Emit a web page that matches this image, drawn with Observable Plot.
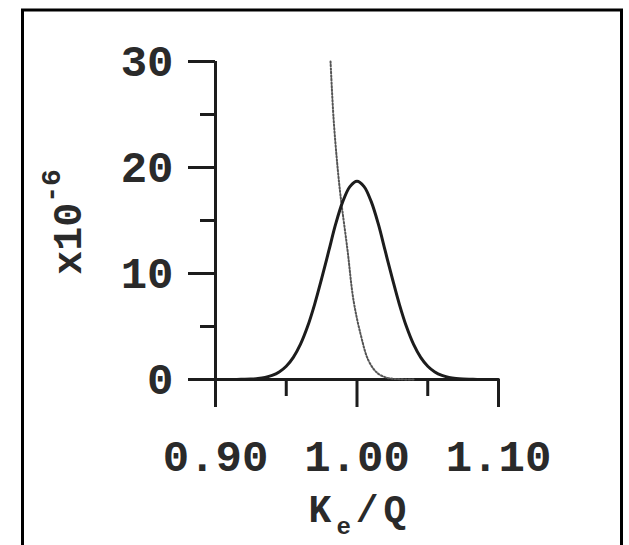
<!DOCTYPE html>
<html><head><meta charset="utf-8">
<script src="https://cdn.jsdelivr.net/npm/d3@7"></script>
<script src="https://cdn.jsdelivr.net/npm/@observablehq/plot@0.6"></script>
<style>body{margin:0;background:#fff}</style>
</head><body><div id="chart"></div>
<script>
// Solid curve (distribution)
const gaussX = [0.900,0.905,0.910,0.915,0.920,0.925,0.930,0.935,0.940,0.945,0.950,0.955,0.960,0.965,0.970,0.975,0.980,0.985,0.990,0.995,1.000,
                1.005,1.010,1.015,1.020,1.025,1.030,1.035,1.040,1.045,1.050,1.055,1.060,1.065,1.070,1.075,1.080,1.085,1.090,1.095,1.100];
const gaussY = [0.00,0.00,0.00,0.01,0.02,0.04,0.09,0.19,0.38,0.71,1.25,2.09,3.31,4.97,7.07,9.51,12.1,14.7,16.8,18.2,18.7,
                18.2,16.8,14.7,12.1,9.51,7.07,4.97,3.31,2.09,1.25,0.71,0.38,0.19,0.09,0.04,0.02,0.01,0.00,0.00,0.00];
// Dotted curve
const dotX = [0.9813,0.9834,0.9860,0.9883,0.9933,0.9975,1.0025,1.0081,1.0145,1.0216,1.0300,1.0400];
const dotY = [30.0,24.7,20.4,17.4,12.2,7.5,4.3,1.8,0.6,0.15,0.03,0.0];

const yTicks = [0,10,20,30];
const yMinor = [5,15,25];
const xTicks = [0.90,1.00,1.10];
const xMinor = [0.95,1.05];
const yLabelMain = "x10", yLabelSup = "-6";
const xLabelMain = "K", xLabelSub = "e", xLabelRest = "/Q";

const font = "'Liberation Mono', 'DejaVu Sans Mono', monospace";
const ink = "#1c1c1c";
const textInk = "#2a2a2a";
const gi = gaussX.map((_, i) => i);
const di = dotX.map((_, i) => i);

const plot = Plot.plot({
  width: 629, height: 545,
  marginLeft: 215, marginRight: 131, marginTop: 61, marginBottom: 166,
  x: {domain: [0.90, 1.10]},
  y: {domain: [0, 30]},
  style: {fontFamily: font, background: "white", overflow: "visible"},
  marks: [
    Plot.axisY(yTicks, {tickSize: 27, tickPadding: 15, fontSize: 44, fontWeight: "bold", strokeWidth: 3, stroke: ink, fill: textInk, label: null}),
    Plot.axisY(yMinor, {tickSize: 15, text: null, strokeWidth: 3, stroke: ink, label: null}),
    Plot.axisX(xTicks, {tickSize: 28, tickPadding: 32, tickFormat: d => d.toFixed(2), fontSize: 44, fontWeight: "bold", strokeWidth: 3, stroke: ink, fill: textInk, label: null}),
    Plot.axisX(xMinor, {tickSize: 17, text: null, strokeWidth: 3, stroke: ink, label: null}),
    Plot.ruleX([0.90], {y1: 0, y2: 30, strokeWidth: 3, stroke: ink}),
    Plot.ruleY([0], {x1: 0.90, x2: 1.10, strokeWidth: 3, stroke: ink}),
    Plot.line(di, {x: i => dotX[i], y: i => dotY[i], curve: "catmull-rom", stroke: "#555", strokeWidth: 2, strokeDasharray: "1.5 2"}),
    Plot.line(gi, {x: i => gaussX[i], y: i => gaussY[i], curve: "catmull-rom", stroke: ink, strokeWidth: 3})
  ]
});

const svg = d3.select(plot);
svg.append("rect").attr("x", 22.5).attr("y", 10).attr("width", 599).attr("height", 600)
  .attr("fill", "none").attr("stroke", "#000").attr("stroke-width", 3);

const yl = svg.append("text")
  .attr("transform", "translate(81,222) rotate(-90)")
  .attr("text-anchor", "middle").attr("font-family", font).attr("font-weight", "bold")
  .attr("font-size", 40).attr("fill", textInk);
yl.append("tspan").text(yLabelMain);
yl.append("tspan").attr("font-size", 28).attr("dy", "-0.75em").text(yLabelSup);

const xl = svg.append("text")
  .attr("x", 360).attr("y", 522)
  .attr("text-anchor", "middle").attr("font-family", font).attr("font-weight", "bold")
  .attr("font-size", 38).attr("letter-spacing", 5).attr("fill", textInk);
xl.append("tspan").text(xLabelMain);
xl.append("tspan").attr("font-size", 24).attr("dy", 12).text(xLabelSub);
xl.append("tspan").attr("dy", -12).text(xLabelRest);

document.getElementById("chart").appendChild(plot);
</script>
</body></html>
